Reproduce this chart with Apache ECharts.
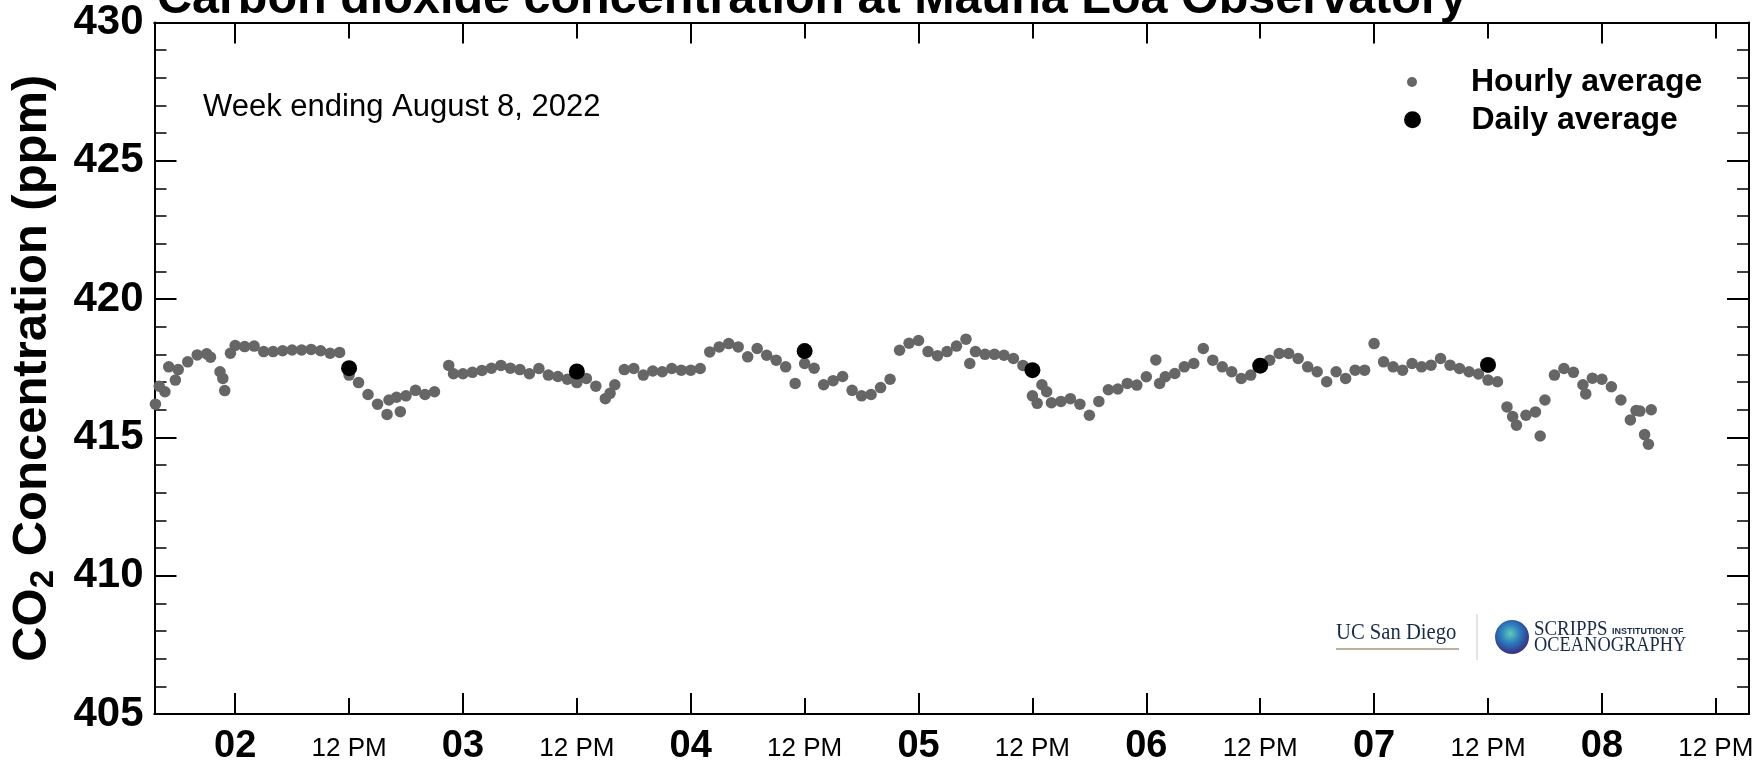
<!DOCTYPE html>
<html>
<head>
<meta charset="utf-8">
<script src="https://cdn.jsdelivr.net/npm/echarts@6/dist/echarts.min.js"></script>
<style>
  html, body { margin: 0; padding: 0; background: #fff; }
  #chart { width: 1755px; height: 763px; }
</style>
</head>
<body>
<div id="chart"></div>
<script>
// hours counted from 2022-08-02 00:00 (local time at the observatory)
const hourlyHours = [
  -8.4, -8, -7.4, -7, -6.3, -6, -5, -4, -3, -2.6, -1.6, -1.3, -1.1, -0.5, 0, 1, 2, 3, 4, 5, 6, 7, 8, 9, 10, 11,
  12, 13, 14, 15, 16, 16.2, 17, 17.4, 18, 19, 20, 21, 22.5, 23, 24, 25, 26, 27, 28, 29, 30, 31, 32, 33, 34, 35,
  36, 37, 38, 39, 39.5, 40, 41, 42, 43, 44, 45, 46, 47, 48, 49, 50, 51, 52, 53, 54, 55, 56, 57, 58, 59,
  60, 61, 62, 63, 64, 65, 66, 67, 68, 69, 70, 71, 72, 73, 74, 75, 76, 77, 77.4, 78, 79, 80, 81, 82, 83,
  84, 84.5, 85, 85.5, 86, 87, 88, 89, 90, 91, 92, 93, 94, 95, 96, 97, 97.4, 98, 99, 100, 101, 102, 103, 104, 105, 106, 107,
  108, 109, 110, 111, 112, 113, 114, 115, 116, 117, 118, 119, 120, 121, 122, 123, 124, 125, 126, 127, 128, 129, 130, 131,
  132, 133, 134, 134.6, 135, 136, 137, 137.5, 138, 139, 140, 141, 142, 142.3, 143, 144, 145, 146, 147, 147.6, 148, 148.5, 148.9, 149.2
];
const hourlyValues = [
  416.2, 416.85, 416.65, 417.55, 417.07, 417.45, 417.73, 417.98, 418.02, 417.9, 417.37, 417.13, 416.69, 418.04, 418.32, 418.28, 418.3, 418.1, 418.1, 418.13, 418.16, 418.16, 418.18, 418.13, 418.04, 418.07,
  417.25, 416.98, 416.55, 416.2, 415.83, 416.35, 416.45, 415.93, 416.5, 416.7, 416.55, 416.65, 417.6, 417.3, 417.3, 417.35, 417.42, 417.5, 417.6, 417.5, 417.45, 417.3, 417.49, 417.25, 417.2, 417.1,
  416.98, 417.13, 416.85, 416.4, 416.59, 416.9, 417.45, 417.49, 417.25, 417.4, 417.37, 417.49, 417.43, 417.43, 417.49, 418.09, 418.27, 418.39, 418.27, 417.91, 418.21, 417.97, 417.79, 417.55, 416.95,
  417.67, 417.5, 416.9, 417.05, 417.2, 416.7, 416.5, 416.55, 416.8, 417.1, 418.15, 418.4, 418.5, 418.1, 417.95, 418.1, 418.3, 418.55, 417.67, 418.1, 418.0, 418.0, 417.97, 417.85, 417.6,
  416.5, 416.23, 416.9, 416.65, 416.25, 416.3, 416.4, 416.2, 415.8, 416.3, 416.72, 416.75, 416.95, 416.89, 417.19, 417.8, 416.95, 417.19, 417.31, 417.55, 417.67, 418.21, 417.79, 417.55, 417.37, 417.13, 417.25,
  417.61, 417.79, 418.03, 418.03, 417.85, 417.55, 417.37, 417.01, 417.37, 417.13, 417.43, 417.43, 418.39, 417.73, 417.55, 417.43, 417.67, 417.55, 417.61, 417.85, 417.61, 417.49, 417.37, 417.29,
  417.07, 417.01, 416.1, 415.75, 415.44, 415.8, 415.92, 415.05, 416.35, 417.25, 417.49, 417.35, 416.9, 416.57, 417.14, 417.1, 416.83, 416.35, 415.63, 415.97, 415.95, 415.1, 414.75, 416.0
];
const dailyHours = [12, 36, 60, 84, 108, 132];
const dailyValues = [417.5, 417.38, 418.12, 417.43, 417.59, 417.62];

const dayLabels = ['02', '03', '04', '05', '06', '07', '08'];
const noonLabel = '12 PM';
const dayTicks = dayLabels.map((d, i) => i * 24);
const noonTicks = dayLabels.map((d, i) => i * 24 + 12);

const SANS = "'Liberation Sans', Arial, Helvetica, sans-serif";
const SERIF = "'Liberation Serif', 'Times New Roman', serif";
const NAVY = '#182b49';

const chart = echarts.init(document.getElementById('chart'));

function xAxisOf(position, ticks, tickLen, label) {
  return {
    type: 'value',
    position: position,
    min: -8.5,
    max: 159.5,
    axisLine: { show: true, onZero: false, lineStyle: { color: '#000', width: 2 } },
    axisTick: { show: true, inside: true, length: tickLen, customValues: ticks, lineStyle: { color: '#000', width: 2 } },
    axisLabel: label ? Object.assign({ customValues: ticks, color: '#000', fontFamily: SANS }, label) : { show: false },
    splitLine: { show: false }
  };
}

function yAxisOf(position, withLabels) {
  return {
    type: 'value',
    position: position,
    min: 405,
    max: 430,
    interval: 5,
    axisLine: { show: true, onZero: false, lineStyle: { color: '#000', width: 2 } },
    axisTick: { show: true, inside: true, length: 22, lineStyle: { color: '#000', width: 2 } },
    minorTick: { show: true, splitNumber: 5, length: 12, lineStyle: { color: '#000', width: 1.5 } },
    axisLabel: withLabels ? { color: '#000', fontSize: 42, fontWeight: 'bold', fontFamily: SANS, margin: 11 } : { show: false },
    splitLine: { show: false }
  };
}

const left = yAxisOf('left', true);
left.name = '{a|CO}{b|2}{a| Concentration (ppm)}';
left.nameLocation = 'middle';
left.nameGap = 94;
left.nameTextStyle = {
  color: '#000',
  fontFamily: SANS,
  fontWeight: 'bold',
  fontSize: 49,
  rich: {
    a: { fontSize: 49, fontWeight: 'bold', fontFamily: SANS, color: '#000', lineHeight: 56 },
    b: { fontSize: 33, fontWeight: 'bold', fontFamily: SANS, color: '#000', lineHeight: 24, verticalAlign: 'bottom' }
  }
};

const legendText = { color: '#000', fontSize: 32, fontWeight: 'bold', fontFamily: SANS };

chart.setOption({
  animation: false,
  backgroundColor: '#fff',
  title: {
    text: 'Carbon dioxide concentration at Mauna Loa Observatory',
    left: 157,
    top: -25,
    padding: 0,
    textStyle: { color: '#000', fontSize: 48.5, fontWeight: 'bold', fontFamily: SANS }
  },
  grid: { left: 154.5, right: 6, top: 22.4, bottom: 49, containLabel: false, outerBoundsMode: 'none' },
  legend: [
    {
      data: ['Hourly average'], left: 1407, top: 66, padding: 0, selectedMode: false,
      itemWidth: 108, itemHeight: 10, textStyle: legendText
    },
    {
      data: ['Daily average'], left: 1404, top: 103.7, padding: 0, selectedMode: false,
      itemWidth: 108, itemHeight: 17, textStyle: legendText
    }
  ],
  xAxis: [
    xAxisOf('bottom', dayTicks, 21, {
      fontSize: 38, fontWeight: 'bold', margin: 14,
      formatter: (v) => dayLabels[Math.round(v / 24)]
    }),
    xAxisOf('bottom', noonTicks, 16, { fontSize: 26, margin: 22, formatter: () => noonLabel }),
    xAxisOf('top', dayTicks, 21, null),
    xAxisOf('top', noonTicks, 16, null)
  ],
  yAxis: [left, yAxisOf('right', false)],
  graphic: [
    {
      type: 'text', left: 203, top: 92,
      style: { text: 'Week ending August 8, 2022', fill: '#000', font: '31px ' + SANS }
    },
    // logo block
    {
      type: 'text', x: 1336, y: 633, scaleX: 0.86,
      style: { text: 'UC San Diego', fill: NAVY, font: '24px ' + SERIF, verticalAlign: 'middle' }
    },
    { type: 'rect', shape: { x: 1336, y: 648, width: 123, height: 2 }, style: { fill: '#b9b199' } },
    { type: 'line', shape: { x1: 1477, y1: 614, x2: 1477, y2: 660 }, style: { stroke: '#c8c8c8', lineWidth: 1 } },
    {
      type: 'circle', shape: { cx: 1512, cy: 637, r: 17 },
      style: {
        fill: new echarts.graphic.RadialGradient(0.45, 0.4, 0.62, [
          { offset: 0, color: '#62c9b6' },
          { offset: 0.45, color: '#2b7fbf' },
          { offset: 0.85, color: '#33408f' },
          { offset: 1, color: '#4a2a7c' }
        ])
      }
    },
    {
      type: 'text', x: 1534, y: 629, scaleX: 0.9,
      style: { text: 'SCRIPPS', fill: NAVY, font: '21px ' + SERIF, verticalAlign: 'middle' }
    },
    { type: 'text', x: 1612, y: 632, style: { text: 'INSTITUTION OF', fill: NAVY, font: 'bold 9px ' + SANS, verticalAlign: 'middle' } },
    {
      type: 'text', x: 1534, y: 646, scaleX: 0.92,
      style: { text: 'OCEANOGRAPHY', fill: NAVY, font: '20px ' + SERIF, verticalAlign: 'middle' }
    }
  ],
  series: [
    {
      name: 'Hourly average',
      type: 'scatter',
      symbol: 'circle',
      symbolSize: 11.5,
      itemStyle: { color: '#666666', opacity: 1 },
      data: hourlyHours.map((h, i) => [h, hourlyValues[i]]),
      z: 2
    },
    {
      name: 'Daily average',
      type: 'scatter',
      symbol: 'circle',
      symbolSize: 16,
      itemStyle: { color: '#000000', opacity: 1 },
      data: dailyHours.map((h, i) => [h, dailyValues[i]]),
      z: 3
    }
  ]
});
</script>
</body>
</html>
